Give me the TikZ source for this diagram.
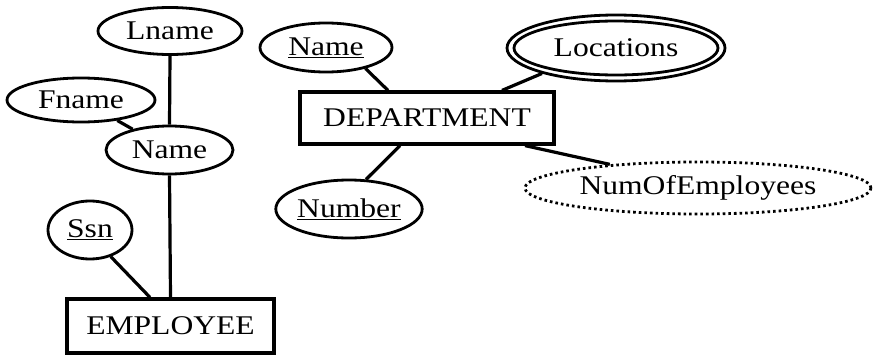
\documentclass[tikz,border=0pt]{standalone}
\usepackage{fontspec}
\setmainfont[FakeStretch=1.17]{Liberation Serif}
\usetikzlibrary{shapes.geometric}
\begin{document}
\begin{tikzpicture}[x=1pt,y=-1pt,
  every node/.style={font=\fontsize{27}{30}\selectfont, inner sep=0pt},
  attr/.style={ellipse, draw, line width=2.8pt},
  ent/.style={rectangle, draw, line width=3.2pt},
  conn/.style={line width=3.2pt}]
\useasboundingbox (0,0) rectangle (873,356);
% EMPLOYEE side
\node[ent, minimum width=207pt, minimum height=54pt] (emp) at (170.5,326) {EMPLOYEE};
\node[attr, minimum width=144pt, minimum height=47pt] (lname) at (170,31) {Lname};
\node[attr, minimum width=148pt, minimum height=44pt] (fname) at (81,100) {Fname};
\node[attr, minimum width=127pt, minimum height=48pt] (name) at (169.5,150) {Name};
\node[attr, minimum width=84pt, minimum height=58pt] (ssn) at (90,230) {\underline{Ssn}};
% DEPARTMENT side
\node[ent, minimum width=254pt, minimum height=52pt] (dept) at (427,118) {DEPARTMENT};
\node[attr, minimum width=132pt, minimum height=49pt] (dname) at (326,47.5) {\underline{Name}};
\node[attr, minimum width=218pt, minimum height=66pt] (loc) at (616,48) {Locations};
\node[ellipse, draw, line width=2.8pt, minimum width=204pt, minimum height=54pt] (locin) at (loc) {};
\node[attr, minimum width=146pt, minimum height=58pt] (num) at (349,209) {\underline{Number}};
\node[ellipse, draw, line width=2.8pt, dash pattern=on 2.6pt off 3pt, minimum width=346pt, minimum height=52pt] (nemp) at (698,188) {NumOfEmployees};
% connectors
\draw[conn] (lname.south) -- (name.north);
\draw[conn] (fname) -- (name);
\draw[conn] (name.south) -- (emp.north);
\draw[conn] (ssn.-52) -- ([xshift=-20.5pt]emp.north);
\draw[conn] (dname.-28) -- ([xshift=-39pt]dept.north);
\draw[conn] (loc.-161) -- ([xshift=75pt]dept.north);
\draw[conn] ([xshift=-27pt]dept.south) -- (num.60);
\draw[conn] ([xshift=98pt]dept.south) -- (nemp.165);
\end{tikzpicture}
\end{document}
